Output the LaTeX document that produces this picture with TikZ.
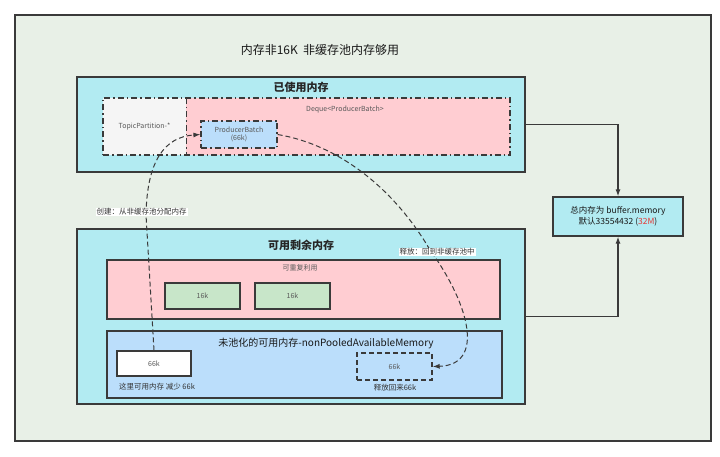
\documentclass[tikz,border=0pt]{standalone}
\usepackage{fontspec}
\setmainfont{Noto Sans CJK SC}
\usetikzlibrary{arrows.meta}

\definecolor{framebg}{HTML}{E8F0E7}
\definecolor{linec}{HTML}{3A3A3A}
\definecolor{cyanbg}{HTML}{B2EBF2}
\definecolor{pinkbg}{HTML}{FFCDD2}
\definecolor{graybg}{HTML}{F5F5F5}
\definecolor{bluebg}{HTML}{BBDEFB}
\definecolor{greenbg}{HTML}{C8E6C9}
\definecolor{redtxt}{HTML}{E53935}

\tikzset{
  box/.style={draw=linec, line width=1.2pt, inner sep=0pt},
  dashdot/.style={draw=linec, line width=1.2pt, dash pattern=on 6pt off 3pt on 1.5pt off 3pt},
  small/.style={font=\fontsize{7}{8.5}\selectfont, text=black!65},
  note/.style={font=\fontsize{7.5}{9}\selectfont, text=black!80},
  head/.style={font=\bfseries\fontsize{11}{13}\selectfont, text=black!85},
  flow/.style={-{Latex[length=7pt,width=5pt]}, draw=linec, line width=1pt, dash pattern=on 5pt off 3pt}
}

\begin{document}
\begin{tikzpicture}[x=1pt,y=-1pt]
\useasboundingbox (0,0) rectangle (720,457);

% outer frame and title
\node[box, fill=framebg, minimum width=696, minimum height=426] (frame) at (363,228) {};
\node[font=\fontsize{12}{14}\selectfont, text=black!90] (title) at (320,50) {内存非16K\ \ 非缓存池内存够用};

% used memory
\node[box, fill=cyanbg, minimum width=448, minimum height=95] (used) at (301,124.5) {};
\node[head] (usedt) at (301,87) {已使用内存};
\node[fill=graybg, minimum width=83, minimum height=57, inner sep=0pt, small] (tp) at (144.5,126.5) {TopicPartition-*};
\node[fill=pinkbg, minimum width=324, minimum height=57, inner sep=0pt] (deque) at (348,126.5) {};
\node[small] (dequet) at (345,110) {Deque<ProducerBatch>};
\node[dashdot, minimum width=407, minimum height=57, inner sep=0pt] (queue) at (306.5,126.5) {};
\draw[dashdot] (tp.north east) -- (tp.south east);
\node[dashdot, fill=bluebg, minimum width=76, minimum height=27, inner sep=0pt, small, align=center] (pb) at (239,134.5) {ProducerBatch\\(66k)};

% total
\node[box, fill=cyanbg, minimum width=130, minimum height=39, align=center, font=\fontsize{8.5}{11}\selectfont, text=black!90] (total) at (618,216.5) {总内存为 buffer.memory\\默认33554432 (\textcolor{redtxt}{32M})};

% available memory
\node[box, fill=cyanbg, minimum width=448, minimum height=175] (avail) at (301,316.5) {};
\node[head] (availt) at (301,245) {可用剩余内存};
\node[box, fill=pinkbg, minimum width=393, minimum height=59] (reuse) at (303.5,289.5) {};
\node[small] (reuset) at (300,268) {可重复利用};
\node[box, fill=greenbg, minimum width=75, minimum height=26, small] (c1) at (202.5,296) {16k};
\node[box, fill=greenbg, minimum width=75, minimum height=26, small] (c2) at (292.5,296) {16k};
\node[box, fill=bluebg, minimum width=395, minimum height=67] (npool) at (304.5,364.5) {};
\node[font=\fontsize{10}{12}\selectfont, text=black!90] (npoolt) at (326,343) {未池化的可用内存-nonPooledAvailableMemory};
\node[box, fill=white, minimum width=74, minimum height=25, small] (w66) at (154,363.5) {66k};
\node[note] (w66t) at (157,387) {这里可用内存 减少 66k};
\node[draw=linec, line width=1.4pt, dash pattern=on 5pt off 3pt, minimum width=75, minimum height=27, inner sep=0pt, small] (d66) at (394.5,366.5) {66k};
\node[note] (d66t) at (395,388) {释放回来66k};

% links to total
\draw[-{Latex[length=7pt,width=5pt]}, draw=linec, line width=1.2pt] (used.east) -| (total.north);
\draw[-{Latex[length=7pt,width=5pt]}, draw=linec, line width=1.2pt] (avail.east) -| (total.south);

% create and release
\draw[flow] (w66.north) -- (146,215) .. controls (147,160) and (165,137) .. (pb.west);
\draw[flow] (pb.east) .. controls (340,145) and (395,190) .. (430,250) .. controls (470,305) and (485,365) .. (d66.east);
\node[note, fill=white, inner sep=1pt] (mk) at (141.5,212) {创建：从非缓存池分配内存};
\node[note, fill=white, inner sep=1pt] (fr) at (437,252) {释放：回到非缓存池中};
\end{tikzpicture}
\end{document}
